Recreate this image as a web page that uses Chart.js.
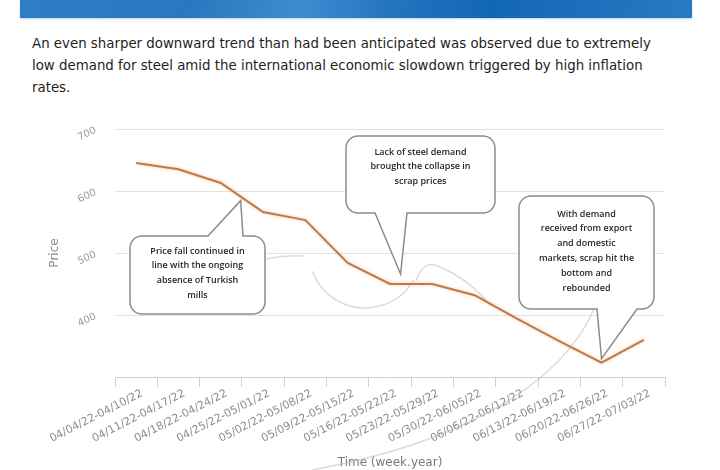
<!DOCTYPE html>
<html>
<head>
<meta charset="utf-8">
<script src="https://cdn.jsdelivr.net/npm/chart.js@4.4.1/dist/chart.umd.min.js"></script>
<style>
    html, body { margin: 0; padding: 0; background: #fff; }
    body { width: 720px; height: 470px; position: relative; overflow: hidden; }
    .banner {
        position: absolute; left: 20px; top: 0; width: 672px; height: 18px;
        background: linear-gradient(100deg, #2f7dc4 0%, #2a77bf 25%, #3d8bd0 42%, #2574bf 55%, #1267b4 70%, #2a79c3 100%);
        box-shadow: 0 1px 2px rgba(120, 170, 220, 0.5);
    }
    .intro {
        position: absolute; left: 32px; top: 33px; width: 680px;
        font: 13.35px "DejaVu Sans", Verdana, sans-serif; line-height: 22px; color: #1e1e1e;
    }
    .chart-box { position: absolute; left: 0; top: 110px; width: 720px; height: 360px; }
</style>
</head>
<body>
<div class="banner"></div>
<div class="intro">
    An even sharper downward trend than had been anticipated was observed due to extremely<br>
    low demand for steel amid the international economic slowdown triggered by high inflation<br>
    rates.
</div>
<div class="chart-box"><canvas id="scrap-chart"></canvas></div>

<script>
// weekly periods (x axis)
const weekLabels = [
    '04/04/22-04/10/22', '04/11/22-04/17/22', '04/18/22-04/24/22', '04/25/22-05/01/22',
    '05/02/22-05/08/22', '05/09/22-05/15/22', '05/16/22-05/22/22', '05/23/22-05/29/22',
    '05/30/22-06/05/22', '06/06/22-06/12/22', '06/13/22-06/19/22', '06/20/22-06/26/22',
    '06/27/22-07/03/22'
];

// scrap price per week
const scrapPrices = [645, 635, 613, 566, 553, 484, 450, 450, 432, 394, 358, 323, 360];

// labelled price ticks
const priceTicks = [400, 500, 600, 700];

// callout texts
const calloutFall = ['Price fall continued in', 'line with the ongoing', 'absence of Turkish', 'mills'];
const calloutCollapse = ['Lack of steel demand', 'brought the collapse in', 'scrap prices'];
const calloutRebound = ['With demand', 'received from export', 'and domestic', 'markets, scrap hit the', 'bottom and', 'rebounded'];

/**
 * point on the price line at a (fractional) week index
 */
function linePoint(chart, idx) {
    const x = chart.scales.x.getPixelForValue(idx);
    const i = Math.min(Math.floor(idx), scrapPrices.length - 2);
    const t = idx - i;
    const v = scrapPrices[i] + (scrapPrices[i + 1] - scrapPrices[i]) * t;
    return { x: x, y: chart.scales.y.getPixelForValue(v) };
}

/**
 * speech bubble with a pointer on the top or bottom edge
 */
function drawCallout(ctx, box, tip, lines) {
    const { x, y, w, h, r, side, baseL, baseR, firstLine } = box;
    ctx.save();
    ctx.beginPath();
    ctx.moveTo(x + r, y);
    if (side === 'top') {
        ctx.lineTo(baseL, y);
        ctx.lineTo(tip.x, tip.y);
        ctx.lineTo(baseR, y);
    }
    ctx.lineTo(x + w - r, y);
    ctx.arcTo(x + w, y, x + w, y + r, r);
    ctx.lineTo(x + w, y + h - r);
    ctx.arcTo(x + w, y + h, x + w - r, y + h, r);
    if (side === 'bottom') {
        ctx.lineTo(baseR, y + h);
        ctx.lineTo(tip.x, tip.y);
        ctx.lineTo(baseL, y + h);
    }
    ctx.lineTo(x + r, y + h);
    ctx.arcTo(x, y + h, x, y + h - r, r);
    ctx.lineTo(x, y + r);
    ctx.arcTo(x, y, x + r, y, r);
    ctx.closePath();
    ctx.fillStyle = '#ffffff';
    ctx.fill();
    ctx.strokeStyle = '#8c8c8c';
    ctx.lineWidth = 1.5;
    ctx.stroke();

    ctx.fillStyle = '#262626';
    ctx.font = '600 9px "Open Sans", Lato, sans-serif';
    ctx.textAlign = 'center';
    ctx.textBaseline = 'middle';
    lines.forEach((line, i) => {
        ctx.fillText(line, x + w / 2, y + firstLine + i * 14.8);
    });
    ctx.restore();
}

const decorPlugin = {
    id: 'decor',
    // faint grey swirls behind the line
    beforeDatasetsDraw(chart) {
        const ctx = chart.ctx;
        ctx.save();
        ctx.strokeStyle = 'rgba(185, 185, 185, 0.5)';
        ctx.lineWidth = 1.5;
        ctx.beginPath();
        ctx.moveTo(266, 149);
        ctx.quadraticCurveTo(285, 145, 304, 146);
        ctx.stroke();
        ctx.beginPath();
        ctx.arc(365, 142, 56, Math.PI / 6, Math.PI * 160 / 180);
        ctx.stroke();
        ctx.beginPath();
        ctx.moveTo(416, 171);
        ctx.bezierCurveTo(420, 158, 428, 150, 440, 157);
        ctx.quadraticCurveTo(470, 170, 490, 195);
        ctx.stroke();
        ctx.beginPath();
        ctx.moveTo(312, 360);
        ctx.bezierCurveTo(450, 335, 560, 280, 595, 197);
        ctx.stroke();
        ctx.restore();
    },
    // soft orange glow on the line
    beforeDatasetDraw(chart) {
        chart.ctx.save();
        chart.ctx.shadowColor = 'rgba(245, 170, 100, 0.7)';
        chart.ctx.shadowBlur = 3;
    },
    afterDatasetDraw(chart) {
        chart.ctx.restore();
    },
    afterDatasetsDraw(chart) {
        const ctx = chart.ctx;
        const tip1 = linePoint(chart, 2.47);
        drawCallout(ctx, { x: 130, y: 126, w: 135, h: 78, r: 12, side: 'top', baseL: 208, baseR: 243, firstLine: 15 },
            { x: tip1.x, y: tip1.y + 4 }, calloutFall);
        const tip2 = linePoint(chart, 6.25);
        drawCallout(ctx, { x: 346, y: 26, w: 149, h: 77, r: 12, side: 'bottom', baseL: 375, baseR: 407, firstLine: 16 },
            { x: tip2.x, y: tip2.y - 10 }, calloutCollapse);
        const tip3 = linePoint(chart, 11);
        drawCallout(ctx, { x: 519, y: 86, w: 135, h: 113, r: 12, side: 'bottom', baseL: 597, baseR: 637, firstLine: 18 },
            { x: tip3.x, y: tip3.y - 4 }, calloutRebound);
    },
    // slanted price labels
    afterDraw(chart) {
        const ctx = chart.ctx;
        const yScale = chart.scales.y;
        ctx.save();
        ctx.fillStyle = '#9a9a9a';
        ctx.font = '10px "DejaVu Sans", sans-serif';
        ctx.textAlign = 'center';
        ctx.textBaseline = 'middle';
        priceTicks.forEach(v => {
            ctx.save();
            ctx.translate(87, yScale.getPixelForValue(v) + 5);
            ctx.rotate(-25 * Math.PI / 180);
            ctx.fillText(String(v), 0, 0);
            ctx.restore();
        });
        ctx.restore();
    }
};

const ctx = document.getElementById('scrap-chart').getContext('2d');
new Chart(ctx, {
    type: 'line',
    data: {
        labels: weekLabels,
        datasets: [{
            label: 'Price',
            data: scrapPrices,
            borderColor: '#bf7a4c',
            borderWidth: 2,
            pointRadius: 0,
            tension: 0,
            fill: false
        }]
    },
    options: {
        responsive: true,
        maintainAspectRatio: false,
        animation: false,
        layout: { padding: { top: 19, right: 55, left: 0, bottom: 0 } },
        scales: {
            x: {
                offset: true,
                afterFit(scale) { scale.height = 93; },
                grid: { offset: true, drawOnChartArea: false, drawTicks: true, tickLength: 10, color: '#d0d0d0' },
                border: { display: true, color: '#d0d0d0' },
                ticks: {
                    autoSkip: false,
                    minRotation: 27,
                    maxRotation: 27,
                    labelOffset: 6,
                    padding: 0,
                    color: '#8c8c8c',
                    font: { family: 'DejaVu Sans', size: 11 }
                },
                title: {
                    display: true,
                    text: 'Time (week.year)',
                    color: '#7a7a7a',
                    font: { family: 'DejaVu Sans', size: 12 },
                    padding: 0
                }
            },
            y: {
                min: 300,
                max: 700,
                afterFit(scale) { scale.width = 115; },
                grid: { color: '#e3e3e3', drawTicks: false },
                border: { display: false },
                ticks: { display: false, stepSize: 100 },
                title: {
                    display: true,
                    text: 'Price',
                    color: '#8a8a8a',
                    font: { family: 'DejaVu Sans', size: 12 },
                    padding: { top: 48, bottom: 0 }
                }
            }
        },
        plugins: {
            legend: { display: false },
            tooltip: { enabled: false }
        }
    },
    plugins: [decorPlugin]
});
</script>
</body>
</html>
